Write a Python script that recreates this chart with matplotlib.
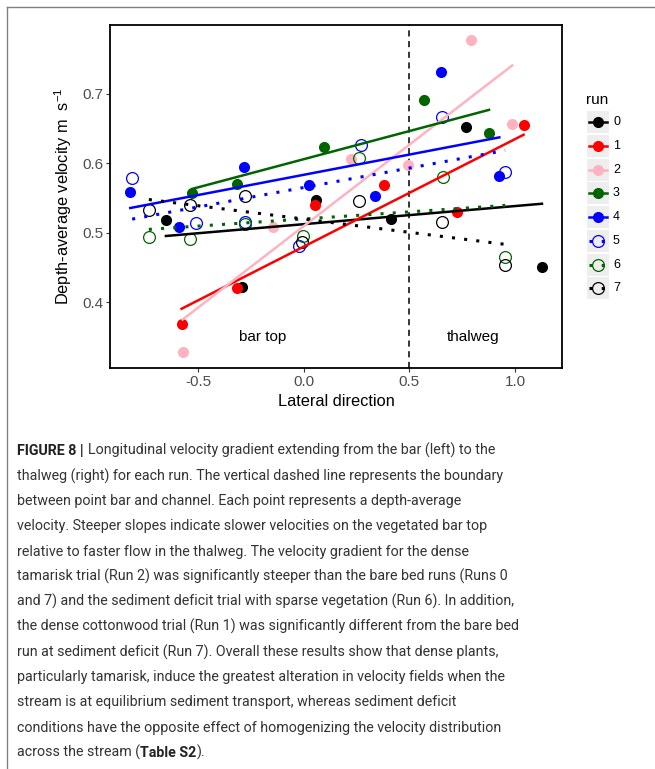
# Velocity gradient across the stream for each run, with figure caption.
import matplotlib
matplotlib.use("Agg")
import matplotlib.pyplot as plt
from matplotlib import font_manager
from matplotlib.patches import Rectangle
import numpy as np

plt.rcParams['font.family'] = ['Liberation Sans', 'DejaVu Sans']
plt.rcParams['mathtext.fontset'] = 'custom'
plt.rcParams['mathtext.rm'] = 'Liberation Sans'

# Data: lateral position and depth-average velocity per run
runs = ["0", "1", "2", "3", "4", "5", "6", "7"]
run_x = [
    [-0.654, -0.295, 0.057, 0.414, 0.769, 1.128],
    [-0.580, -0.316, 0.051, 0.381, 0.724, 1.041],
    [-0.575, -0.145, 0.224, 0.494, 0.790, 0.987],
    [-0.529, -0.319, 0.093, 0.570, 0.877],
    [-0.823, -0.591, -0.283, 0.022, 0.338, 0.651, 0.926],
    [-0.814, -0.512, -0.278, -0.022, 0.270, 0.654, 0.953],
    [-0.735, -0.542, -0.278, -0.003, 0.262, 0.657, 0.954],
    [-0.735, -0.542, -0.278, -0.011, 0.262, 0.656, 0.954],
]
run_y = [
    [0.518, 0.422, 0.547, 0.520, 0.652, 0.451],
    [0.368, 0.420, 0.540, 0.568, 0.530, 0.655],
    [0.328, 0.508, 0.606, 0.598, 0.777, 0.656],
    [0.557, 0.570, 0.624, 0.691, 0.643],
    [0.559, 0.508, 0.595, 0.569, 0.553, 0.731, 0.582],
    [0.579, 0.514, 0.515, 0.481, 0.626, 0.666, 0.588],
    [0.493, 0.491, 0.513, 0.495, 0.607, 0.580, 0.465],
    [0.532, 0.540, 0.553, 0.486, 0.546, 0.515, 0.453],
]
run_colors = ["black", "red", "#FFB3C1", "#006400", "#0000FF", "#0000FF", "#006400", "black"]
run_filled = [True, True, True, True, True, False, False, False]

x_ticks = [-0.5, 0.0, 0.5, 1.0]
x_tick_labels = ["-0.5", "0.0", "0.5", "1.0"]
y_ticks = [0.4, 0.5, 0.6, 0.7]
y_tick_labels = ["0.4", "0.5", "0.6", "0.7"]
boundary = 0.5

caption_lines = [
    "Longitudinal velocity gradient extending from the bar (left) to the",
    "thalweg (right) for each run. The vertical dashed line represents the boundary",
    "between point bar and channel. Each point represents a depth-average",
    "velocity. Steeper slopes indicate slower velocities on the vegetated bar top",
    "relative to faster flow in the thalweg. The velocity gradient for the dense",
    "tamarisk trial (Run 2) was significantly steeper than the bare bed runs (Runs 0",
    "and 7) and the sediment deficit trial with sparse vegetation (Run 6). In addition,",
    "the dense cottonwood trial (Run 1) was significantly different from the bare bed",
    "run at sediment deficit (Run 7). Overall these results show that dense plants,",
    "particularly tamarisk, induce the greatest alteration in velocity fields when the",
    "stream is at equilibrium sediment transport, whereas sediment deficit",
    "conditions have the opposite effect of homogenizing the velocity distribution",
    "across the stream (",
]

W, H = 655, 769
fig = plt.figure(figsize=(W / 100, H / 100), dpi=100)
ax = fig.add_axes([110 / W, 1 - 368 / H, 452 / W, 343 / H])

# points first, fitted lines on top
for i in range(len(runs)):
    c = run_colors[i]
    if run_filled[i]:
        ax.plot(run_x[i], run_y[i], 'o', ms=8, color=c, mec='none', zorder=2)
    else:
        ax.plot(run_x[i], run_y[i], 'o', ms=8.5, mfc='none', mec=c, mew=0.9, zorder=2)

for i in range(len(runs)):
    xs = np.array(run_x[i])
    ys = np.array(run_y[i])
    k, b = np.polyfit(xs, ys, 1)
    xf = np.array([xs.min(), xs.max()])
    if run_filled[i]:
        ax.plot(xf, k * xf + b, color=run_colors[i], lw=1.8, zorder=3)
    else:
        ax.plot(xf, k * xf + b, color=run_colors[i], lw=2.2, ls=(0, (1, 3)),
                dash_capstyle='butt', zorder=3)

ax.axvline(boundary, color='black', lw=1.1, ls=(0, (4, 3)), zorder=1)
ax.text(-0.194, 0.349, "bar top", ha='center', va='center', fontsize=11)
ax.text(0.80, 0.349, "thalweg", ha='center', va='center', fontsize=11)

ax.set_xlim(-0.919, 1.223)
ax.set_ylim(0.305, 0.799)
ax.set_xticks(x_ticks)
ax.set_xticklabels(x_tick_labels)
ax.set_yticks(y_ticks)
ax.set_yticklabels(y_tick_labels)
ax.tick_params(length=3, width=0.8, color='#333333', labelcolor='#4D4D4D',
               labelsize=11, pad=2)
for s in ax.spines.values():
    s.set_linewidth(1.3)
    s.set_color('black')

ax.set_xlabel("Lateral direction", fontsize=11.8)
ax.set_ylabel("Depth-average velocity m  s$^{-1}$", fontsize=11.8)
ax.xaxis.set_label_coords(0.5, -0.076)
ax.yaxis.set_label_coords(-0.080, 0.5)

# overlay in pixel units for legend, border and caption
ov = fig.add_axes([0, 0, 1, 1])
ov.set_xlim(0, W)
ov.set_ylim(H, 0)
ov.axis('off')

ov.plot([7, 7], [7, H], color='#808080', lw=1)
ov.plot([7, W], [7, 7], color='#808080', lw=1)

# legend
ov.text(586, 100, "run", fontsize=11, va='center', ha='left')
for i in range(len(runs)):
    cy = 122.3 + i * 23.7
    ov.add_patch(Rectangle((586.5, cy - 11), 22.5, 22, fc='#EEEEEE', ec='none'))
    c = run_colors[i]
    if run_filled[i]:
        ov.plot([589, 607], [cy, cy], color=c, lw=1.8)
        ov.plot([598], [cy], 'o', ms=8, color=c, mec='none')
    else:
        ov.plot([589, 607], [cy, cy], color=c, lw=2.2, ls=(0, (1, 3)), dash_capstyle='butt')
        ov.plot([598], [cy], 'o', ms=8.5, mfc='none', mec=c, mew=0.9)
    ov.text(613, cy, runs[i], fontsize=9, va='center', ha='left')

# caption: size chosen so the widest line spans the column like the original
names = {f.name for f in font_manager.fontManager.ttflist}
if "Liberation Sans Narrow" in names:
    cap_font = "Liberation Sans Narrow"
elif "Roboto" in names:
    cap_font = "Roboto"
else:
    cap_font = "Liberation Sans"
cap_color = '#333333'
renderer = fig.canvas.get_renderer()
probe = ov.text(0, 0, caption_lines[6], fontsize=10, family=cap_font)
cap_size = 10 * 498 / probe.get_window_extent(renderer).width
probe.remove()

x0, base0, step = 17, 455, 25.14
for n, line in enumerate(caption_lines):
    base = base0 + n * step
    x = x0
    if n == 0:
        t = ov.text(x, base, "FIGURE 8 |", fontsize=cap_size, family=cap_font,
                    weight='bold', color='#222222', va='baseline')
        x += t.get_window_extent(renderer).width + 4
    t = ov.text(x, base, line, fontsize=cap_size, family=cap_font,
                color=cap_color, va='baseline')
    if n == len(caption_lines) - 1:
        x += t.get_window_extent(renderer).width
        t = ov.text(x, base, "Table S2", fontsize=cap_size, family=cap_font,
                    weight='bold', color='#222222', va='baseline')
        x += t.get_window_extent(renderer).width
        ov.text(x, base, ").", fontsize=cap_size, family=cap_font,
                color=cap_color, va='baseline')

fig.savefig("out.png", dpi=100)
